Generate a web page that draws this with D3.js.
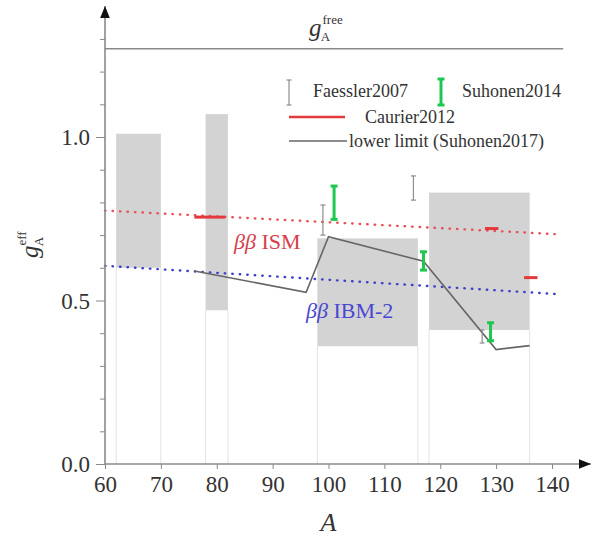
<!DOCTYPE html>
<html><head><meta charset="utf-8">
<script src="https://cdn.jsdelivr.net/npm/d3@7"></script>
<style>
body{margin:0;background:#fff}
text{font-family:"Liberation Serif","DejaVu Serif",serif}
</style>
</head><body>
<svg id="c" width="592" height="540"></svg>
<script>
// ---- data ----
const xTicks = [60, 70, 80, 90, 100, 110, 120, 130, 140];
const yTicks = [0.0, 0.1, 0.2, 0.3, 0.4, 0.5, 0.6, 0.7, 0.8, 0.9, 1.0, 1.1, 1.2, 1.3];
const yLabelled = [0.0, 0.5, 1.0];
const gAfree = 1.27;
const gAfreeRange = [60, 142];
// grey bands (A range, g_A range)
const bandA0 = [62, 78, 98, 118];
const bandA1 = [70, 82, 116, 136];
const bandLo = [0.60, 0.47, 0.36, 0.41];
const bandHi = [1.01, 1.07, 0.69, 0.83];
// dotted trend lines
const ismA = [60, 140.5], ismV = [0.775, 0.703];
const ibmA = [60, 140.5], ibmV = [0.606, 0.520];
// Faessler2007 error bars
const faesslerA = [99, 115.2, 127.5];
const faesslerLo = [0.700, 0.807, 0.370];
const faesslerHi = [0.792, 0.881, 0.410];
// Suhonen2014 error bars
const suhA = [101, 117, 129];
const suhLo = [0.748, 0.593, 0.377];
const suhHi = [0.850, 0.649, 0.432];
// Caurier2012 segments
const caurierFrom = [76, 128, 135];
const caurierTo = [81.5, 130.4, 137.4];
const caurierV = [0.755, 0.720, 0.570];
// lower limit (Suhonen2017)
const limitA = [76, 96, 100, 117, 130, 136];
const limitV = [0.590, 0.525, 0.695, 0.620, 0.350, 0.362];

// ---- drawing ----
const svg = d3.select("#c");
const x = d3.scaleLinear().domain([60, 140]).range([105, 552]);
const y = d3.scaleLinear().domain([0, 1]).range([464, 137]);

// light vertical guide lines from band bottom to axis
const bands = bandA0.map((a, i) => ({a0: a, a1: bandA1[i], lo: bandLo[i], hi: bandHi[i]}));
bands.forEach(b => {
  [b.a0, b.a1].forEach(a => {
    svg.append("line").attr("x1", x(a)).attr("x2", x(a))
      .attr("y1", y(0)).attr("y2", y(b.lo))
      .attr("stroke", "#e2e2e2").attr("stroke-width", 1);
  });
});
svg.selectAll("rect.band").data(bands).join("rect")
  .attr("x", d => x(d.a0)).attr("width", d => x(d.a1) - x(d.a0))
  .attr("y", d => y(d.hi)).attr("height", d => y(d.lo) - y(d.hi))
  .attr("fill", "#d3d3d3");

// gA free line
svg.append("line").attr("x1", x(gAfreeRange[0])).attr("x2", x(gAfreeRange[1]))
  .attr("y1", y(gAfree)).attr("y2", y(gAfree))
  .attr("stroke", "#8a8a8a").attr("stroke-width", 1.5);

// dotted lines
const line = d3.line().x(d => x(d[0])).y(d => y(d[1]));
svg.append("path").attr("d", line(ismA.map((a, i) => [a, ismV[i]])))
  .attr("fill", "none").attr("stroke", "#e8505a").attr("stroke-width", 2.4)
  .attr("stroke-linecap", "round").attr("stroke-dasharray", "0.5,7");
svg.append("path").attr("d", line(ibmA.map((a, i) => [a, ibmV[i]])))
  .attr("fill", "none").attr("stroke", "#4040c8").attr("stroke-width", 2.4)
  .attr("stroke-linecap", "round").attr("stroke-dasharray", "0.5,7");

// lower limit line
svg.append("path").attr("d", line(limitA.map((a, i) => [a, limitV[i]])))
  .attr("fill", "none").attr("stroke", "#666").attr("stroke-width", 1.6);

// Caurier segments
caurierV.forEach((v, i) => {
  svg.append("line").attr("x1", x(caurierFrom[i])).attr("x2", x(caurierTo[i]))
    .attr("y1", y(v)).attr("y2", y(v))
    .attr("stroke", "#e23a3a").attr("stroke-width", 3);
});

// error bar helper
function errbar(g, cx, y1, y2, color, w, cap) {
  g.append("line").attr("x1", cx).attr("x2", cx).attr("y1", y1).attr("y2", y2)
    .attr("stroke", color).attr("stroke-width", w);
  [y1, y2].forEach(yy => g.append("line").attr("x1", cx - cap).attr("x2", cx + cap)
    .attr("y1", yy).attr("y2", yy).attr("stroke", color).attr("stroke-width", w));
}
faesslerA.forEach((a, i) => errbar(svg, x(a), y(faesslerLo[i]), y(faesslerHi[i]), "#8c8c8c", 1.2, 2.5));
suhA.forEach((a, i) => errbar(svg, x(a), y(suhLo[i]), y(suhHi[i]), "#1ec850", 3, 3.5));

// axes
const defs = svg.append("defs");
defs.append("marker").attr("id", "arr").attr("viewBox", "0 0 10 10")
  .attr("refX", 10).attr("refY", 5).attr("markerWidth", 12).attr("markerHeight", 12)
  .attr("markerUnits", "userSpaceOnUse").attr("orient", "auto")
  .append("path").attr("d", "M0,1 L10,5 L0,9 Z").attr("fill", "#111");

const gx = svg.append("g").attr("transform", `translate(0,${y(0)})`)
  .call(d3.axisBottom(x).tickValues(xTicks).tickSize(5).tickPadding(7).tickFormat(d3.format("d")));
gx.select(".domain").remove();
gx.selectAll(".tick line").attr("stroke", "#888");
gx.selectAll(".tick text").attr("font-size", 23).attr("fill", "#333")
  .attr("font-family", "Liberation Serif");

const gy = svg.append("g").attr("transform", `translate(${x(60)},0)`)
  .call(d3.axisLeft(y).tickValues(yTicks).tickSize(5).tickPadding(10)
    .tickFormat(d => yLabelled.some(v => Math.abs(v - d) < 1e-9) ? d3.format(".1f")(d) : ""));
gy.select(".domain").remove();
gy.selectAll(".tick line").attr("stroke", "#888")
  .attr("x2", d => yLabelled.some(v => Math.abs(v - d) < 1e-9) ? -9 : -5);
gy.selectAll(".tick text").attr("font-size", 23).attr("fill", "#333")
  .attr("font-family", "Liberation Serif").attr("dy", "0.34em");

svg.append("line").attr("x1", x(60)).attr("x2", 591).attr("y1", y(0)).attr("y2", y(0))
  .attr("stroke", "#8a8a8a").attr("stroke-width", 1.6).attr("marker-end", "url(#arr)");
svg.append("line").attr("x1", x(60)).attr("x2", x(60)).attr("y1", y(0)).attr("y2", 6)
  .attr("stroke", "#8a8a8a").attr("stroke-width", 1.6).attr("marker-end", "url(#arr)");

// axis titles
svg.append("text").attr("x", x(100)).attr("y", 531).attr("text-anchor", "middle")
  .attr("font-size", 26).attr("font-style", "italic").attr("fill", "#333").text("A");
const yl = svg.append("text").attr("transform", "translate(38,258) rotate(-90)")
  .attr("font-size", 25).attr("fill", "#333");
yl.append("tspan").attr("font-style", "italic").text("g");
yl.append("tspan").attr("font-size", 13).attr("dy", -12).text("eff");
yl.append("tspan").attr("font-size", 13).attr("dx", -15).attr("dy", 17).text("A");

// gA free label
const fl = svg.append("text").attr("x", 309).attr("y", 36).attr("font-size", 25).attr("fill", "#333");
fl.append("tspan").attr("font-style", "italic").text("g");
fl.append("tspan").attr("font-size", 13).attr("dy", -12).attr("dx", 1).text("free");
fl.append("tspan").attr("font-size", 13).attr("dx", -22).attr("dy", 17).text("A");

// model labels
const t1 = svg.append("text").attr("x", 234).attr("y", 249).attr("font-size", 22).attr("fill", "#d8404c");
t1.append("tspan").attr("font-style", "italic").text("ββ");
t1.append("tspan").text(" ISM");
const t2 = svg.append("text").attr("x", 306).attr("y", 318).attr("font-size", 22).attr("fill", "#4848d0");
t2.append("tspan").attr("font-style", "italic").text("ββ");
t2.append("tspan").text(" IBM-2");

// legend
const lg = svg.append("g");
errbar(lg, 289, 80, 105, "#8c8c8c", 1.2, 2.5);
lg.append("text").attr("x", 313).attr("y", 97).attr("font-size", 18).attr("fill", "#333").text("Faessler2007");
errbar(lg, 441, 79, 105, "#1ec850", 3, 3.5);
lg.append("text").attr("x", 462).attr("y", 97).attr("font-size", 18).attr("fill", "#333").text("Suhonen2014");
lg.append("line").attr("x1", 289).attr("x2", 345).attr("y1", 117).attr("y2", 117)
  .attr("stroke", "#e23a3a").attr("stroke-width", 2.5);
lg.append("text").attr("x", 365).attr("y", 123).attr("font-size", 18).attr("fill", "#333").text("Caurier2012");
lg.append("line").attr("x1", 289).attr("x2", 347).attr("y1", 141).attr("y2", 141)
  .attr("stroke", "#666").attr("stroke-width", 1.6);
lg.append("text").attr("x", 349).attr("y", 147).attr("font-size", 18).attr("fill", "#333").text("lower limit (Suhonen2017)");
</script>
</body></html>
